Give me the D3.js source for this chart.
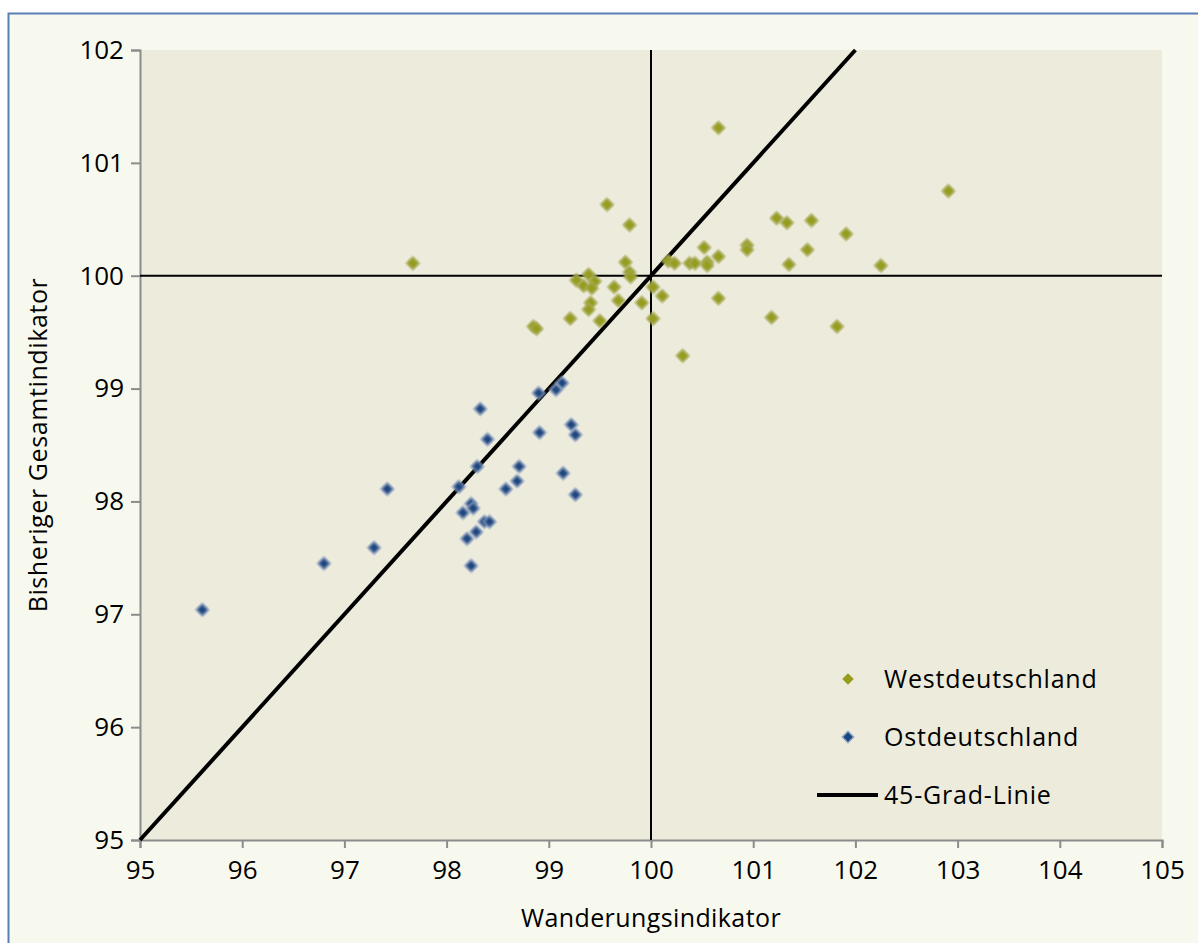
<!DOCTYPE html>
<html>
<head>
<meta charset="utf-8">
<script src="https://cdn.jsdelivr.net/npm/d3@7"></script>
<style>
  body { margin: 0; background: #ffffff; }
  svg { display: block; font-family: "Open Sans", "Noto Sans", sans-serif; }
</style>
</head>
<body>
<script>
// data
var westX = [100.66, 102.91, 99.57, 99.79, 101.23, 101.33, 101.57, 101.91, 100.94, 100.94,
  100.52, 101.53, 100.66, 100.55, 100.55, 100.38, 100.43, 100.17, 100.23, 101.35,
  102.25, 99.75, 99.79, 99.80, 99.39, 99.27, 99.45, 99.34, 99.42, 99.64,
  100.02, 100.11, 99.41, 99.68, 99.39, 99.91, 100.66, 99.21, 99.50, 100.02,
  101.18, 101.82, 98.85, 98.88, 100.31, 97.67];
var westY = [101.31, 100.75, 100.63, 100.45, 100.51, 100.47, 100.49, 100.37, 100.27, 100.23,
  100.25, 100.23, 100.17, 100.12, 100.09, 100.11, 100.11, 100.13, 100.11, 100.10,
  100.09, 100.12, 100.03, 99.99, 100.01, 99.96, 99.95, 99.91, 99.89, 99.90,
  99.90, 99.82, 99.76, 99.78, 99.70, 99.76, 99.80, 99.62, 99.60, 99.62,
  99.63, 99.55, 99.55, 99.53, 99.29, 100.11];

var ostX = [99.13, 99.07, 98.90, 98.33, 99.22, 99.26, 98.91, 98.40, 98.30, 98.71,
  98.69, 99.14, 98.12, 98.58, 97.42, 99.26, 98.24, 98.26, 98.16, 98.37,
  98.42, 98.29, 98.20, 97.29, 96.80, 98.24, 95.61];
var ostY = [99.05, 98.99, 98.96, 98.82, 98.68, 98.59, 98.61, 98.55, 98.31, 98.31,
  98.18, 98.25, 98.13, 98.11, 98.11, 98.06, 97.98, 97.94, 97.90, 97.82,
  97.82, 97.73, 97.67, 97.59, 97.45, 97.43, 97.04];

var xTicks = [95, 96, 97, 98, 99, 100, 101, 102, 103, 104, 105];
var yTicks = [95, 96, 97, 98, 99, 100, 101, 102];
var legendNames = ["Westdeutschland", "Ostdeutschland", "45-Grad-Linie"];

var svgWidth = 1198;
var svgHeight = 943;
var fontFam = "'Open Sans', sans-serif";

var svg = d3.select("body")
  .append("svg")
  .attr("width", svgWidth)
  .attr("height", svgHeight);

// outer chart area with blue frame
svg.append("rect")
  .attr("x", 8.5)
  .attr("y", 13.5)
  .attr("width", 1200)
  .attr("height", 950)
  .attr("fill", "#f8f9ee")
  .attr("stroke", "#5a7fb5")
  .attr("stroke-width", 2);

var x = d3.scaleLinear().domain([95, 105]).range([140, 1162]);
var y = d3.scaleLinear().domain([95, 102]).range([840, 50]);

// plot background
svg.append("rect")
  .attr("x", x(95))
  .attr("y", y(102))
  .attr("width", x(105) - x(95))
  .attr("height", y(95) - y(102))
  .attr("fill", "#ecebdc");

// axes
var xAxis = svg.append("g")
  .attr("transform", "translate(0," + y(95) + ")")
  .call(d3.axisBottom(x).tickValues(xTicks).tickFormat(d3.format("d"))
    .tickSize(8).tickSizeOuter(8).tickPadding(13));
var yAxis = svg.append("g")
  .attr("transform", "translate(" + x(95) + ",0)")
  .call(d3.axisLeft(y).tickValues(yTicks).tickFormat(d3.format("d"))
    .tickSize(9).tickSizeOuter(9).tickPadding(7));

[xAxis, yAxis].forEach(function(a) {
  a.attr("font-size", 26).attr("font-family", fontFam);
  a.selectAll("path, line").attr("stroke", "#8c8c8c").attr("stroke-width", 2);
  a.selectAll("text").attr("fill", "#000");
});
xAxis.selectAll("text").attr("dy", "0.71em");

// reference lines at 100
svg.append("line")
  .attr("x1", x(100)).attr("x2", x(100))
  .attr("y1", y(102)).attr("y2", y(95))
  .attr("stroke", "#000").attr("stroke-width", 2);
svg.append("line")
  .attr("x1", x(95)).attr("x2", x(105))
  .attr("y1", y(100)).attr("y2", y(100))
  .attr("stroke", "#000").attr("stroke-width", 2);

// 45 degree line
svg.append("line")
  .attr("x1", x(95)).attr("y1", y(95))
  .attr("x2", x(102)).attr("y2", y(102))
  .attr("stroke", "#000").attr("stroke-width", 4);

// soft edge for markers
var defs = svg.append("defs");
defs.append("filter").attr("id", "soft")
  .append("feGaussianBlur").attr("stdDeviation", 0.8);

var diamond = d3.symbol().type(d3.symbolSquare).size(85);

function drawPoints(xs, ys, fill, edge) {
  svg.append("g").selectAll("path")
    .data(ys)
    .enter()
    .append("path")
    .attr("d", diamond)
    .attr("transform", function(d, i) {
      return "translate(" + x(xs[i]) + "," + y(d) + ") rotate(45)";
    })
    .attr("fill", fill)
    .attr("stroke", edge)
    .attr("stroke-width", 1.5)
    .attr("filter", "url(#soft)");
}
drawPoints(westX, westY, "#969c1c", "#a9ad5c");
drawPoints(ostX, ostY, "#1a467f", "#8ea4c6");

// legend
var legend = svg.append("g");
var legY = [679, 737, 795];
legend.append("path")
  .attr("d", d3.symbol().type(d3.symbolSquare).size(65))
  .attr("transform", "translate(848," + legY[0] + ") rotate(45)")
  .attr("fill", "#969c1c");
legend.append("path")
  .attr("d", d3.symbol().type(d3.symbolSquare).size(65))
  .attr("transform", "translate(848," + legY[1] + ") rotate(45)")
  .attr("fill", "#1a467f")
  .attr("stroke", "#8ea4c6")
  .attr("stroke-width", 1.5);
legend.append("line")
  .attr("x1", 817).attr("x2", 878)
  .attr("y1", legY[2]).attr("y2", legY[2])
  .attr("stroke", "#000").attr("stroke-width", 4);

legend.selectAll("text")
  .data(legendNames)
  .enter()
  .append("text")
  .attr("x", 884)
  .attr("y", function(d, i) { return legY[i]; })
  .attr("dy", "0.35em")
  .style("font-size", "25px")
  .style("letter-spacing", "0.8px")
  .text(function(d) { return d; });

// axis titles
svg.append("text")
  .attr("x", x(100))
  .attr("y", 927)
  .style("text-anchor", "middle")
  .style("font-size", "25px")
  .style("letter-spacing", "0.4px")
  .text("Wanderungsindikator");

svg.append("text")
  .attr("transform", "rotate(-90)")
  .attr("x", -445)
  .attr("y", 38)
  .attr("dy", "0.35em")
  .style("text-anchor", "middle")
  .style("font-size", "25px")
  .style("letter-spacing", "0.6px")
  .text("Bisheriger Gesamtindikator");
</script>
</body>
</html>
